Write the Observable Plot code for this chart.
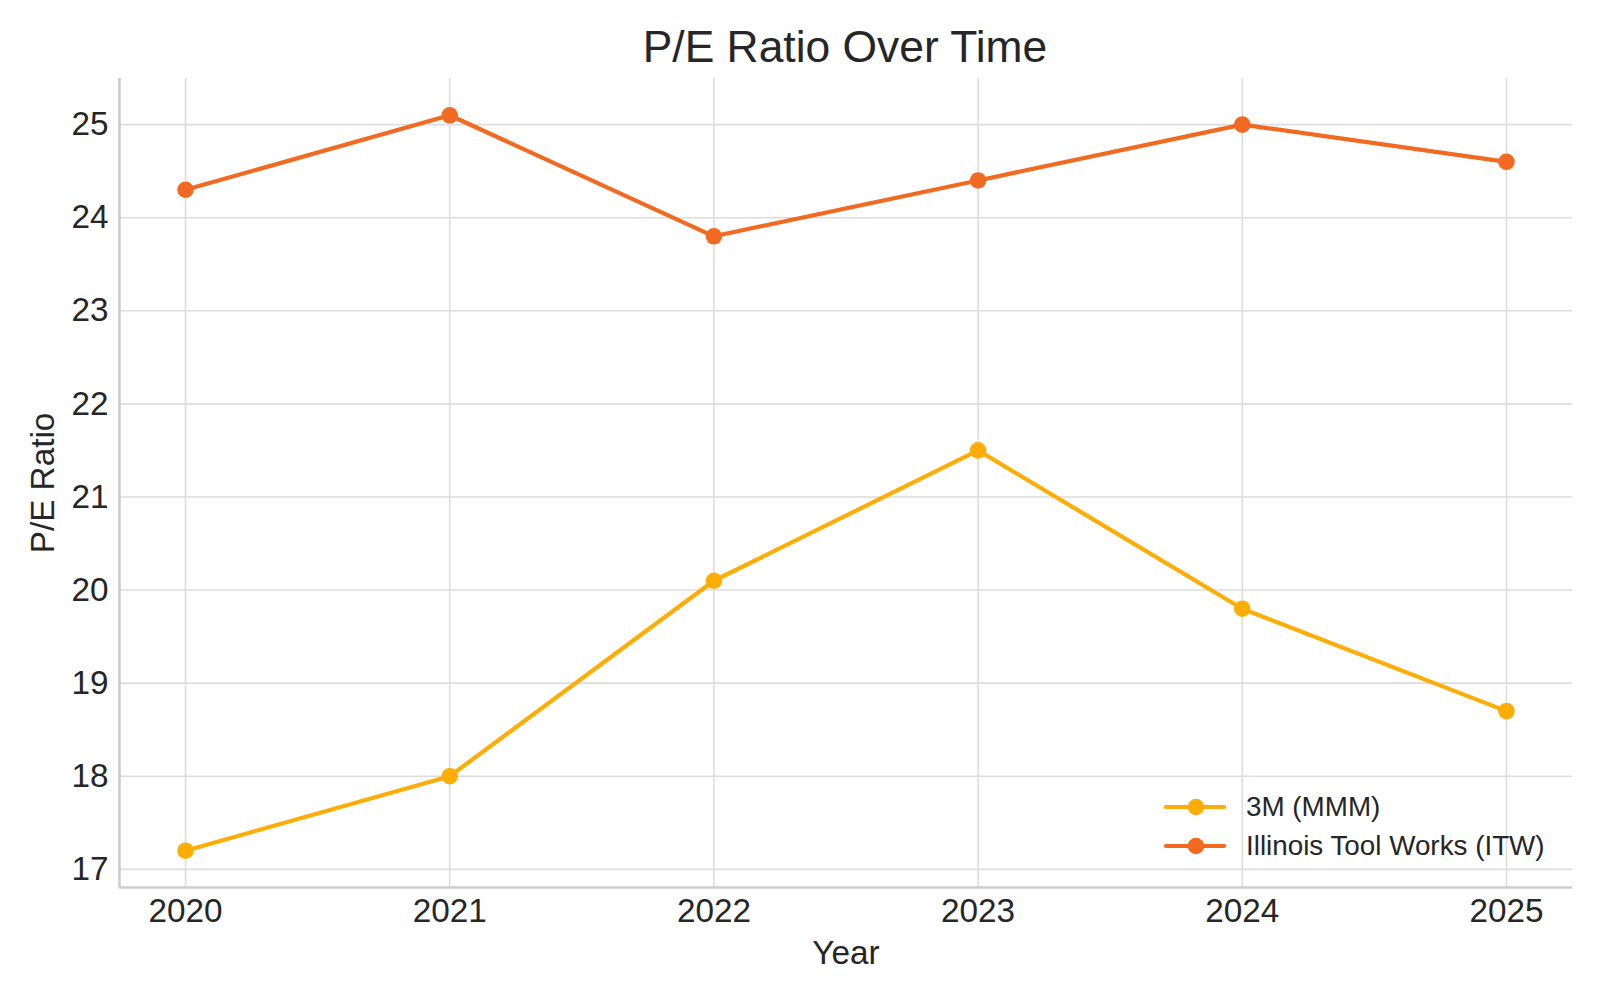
<!DOCTYPE html>
<html>
<head>
<meta charset="utf-8">
<script src="https://cdn.jsdelivr.net/npm/d3@7"></script>
<script src="https://cdn.jsdelivr.net/npm/@observablehq/plot@0.6"></script>
<style>
  body { margin: 0; background: #fff; font-family: "Liberation Sans", Arial, sans-serif; }
  #wrap { position: relative; width: 1600px; height: 1000px; }
  #title { height: 78px; width: 1600px; position: relative; }
  #title span { position: absolute; left: 845px; top: 47px; transform: translate(-50%, -50%); font-size: 44.4px; color: #262626; white-space: nowrap; }
  #legend { position: absolute; left: 1160px; top: 787px; font-size: 27.8px; color: #262626; }
  .item { display: flex; align-items: center; height: 39px; }
  .item svg { margin-right: 20px; }
</style>
</head>
<body>
<div id="wrap">
  <div id="title"><span>P/E Ratio Over Time</span></div>
  <div id="chart"></div>
  <div id="legend"></div>
</div>
<script>
const years = [2020, 2021, 2022, 2023, 2024, 2025];
const seriesNames = ["3M (MMM)", "Illinois Tool Works (ITW)"];
const mmmPE = [17.2, 18.0, 20.1, 21.5, 19.8, 18.7];
const itwPE = [24.3, 25.1, 23.8, 24.4, 25.0, 24.6];
const colors = ["#FDAD06", "#F26A21"];
const yTicks = [17, 18, 19, 20, 21, 22, 23, 24, 25];

const data = [];
years.forEach((y, i) => {
  data.push({year: y, pe: mmmPE[i], series: seriesNames[0]});
  data.push({year: y, pe: itwPE[i], series: seriesNames[1]});
});

const xDomain = [2019.75, 2025.25];
const yDomain = [16.805, 25.495];

const chart = Plot.plot({
  width: 1600,
  height: 922,
  marginLeft: 119,
  marginRight: 28,
  marginTop: 0,
  marginBottom: 113,
  style: {fontFamily: '"Liberation Sans", Arial, sans-serif', color: "#262626", background: "#fff"},
  x: {domain: xDomain, ticks: years, tickFormat: "d"},
  y: {domain: yDomain, ticks: yTicks},
  color: {domain: seriesNames, range: colors},
  marks: [
    Plot.gridX(years, {stroke: "#dddddd", strokeOpacity: 1, strokeWidth: 1.6}),
    Plot.gridY(yTicks, {stroke: "#dddddd", strokeOpacity: 1, strokeWidth: 1.6}),
    Plot.ruleX([xDomain[0]], {stroke: "#cccccc", strokeWidth: 2.6}),
    Plot.ruleY([yDomain[0]], {stroke: "#cccccc", strokeWidth: 2.6}),
    Plot.axisX({ticks: years, tickFormat: "d", tickSize: 0, tickPadding: 11, fontSize: 33.3, label: null}),
    Plot.axisY({ticks: yTicks, tickSize: 0, tickPadding: 11, fontSize: 33.3, label: null}),
    Plot.text(["Year"], {frameAnchor: "bottom", lineAnchor: "middle", textAnchor: "middle", dy: 66, fontSize: 33.3, fill: "#262626"}),
    Plot.text(["P/E Ratio"], {frameAnchor: "left", textAnchor: "middle", lineAnchor: "middle", dx: -76, rotate: -90, fontSize: 33.3, fill: "#262626"}),
    Plot.line(data, {x: "year", y: "pe", z: "series", stroke: "series", strokeWidth: 4.2}),
    Plot.dot(data, {x: "year", y: "pe", fill: "series", r: 8.3})
  ]
});
document.getElementById("chart").appendChild(chart);

const legend = document.getElementById("legend");
seriesNames.forEach((name, i) => {
  const item = document.createElement("div");
  item.className = "item";
  item.innerHTML = `<svg width="66" height="20" viewBox="0 0 66 20"><line x1="6" y1="10" x2="64" y2="10" stroke="${colors[i]}" stroke-width="4.2" stroke-linecap="round"/><circle cx="36" cy="10" r="8.3" fill="${colors[i]}"/></svg><span>${name}</span>`;
  legend.appendChild(item);
});
</script>
</body>
</html>
